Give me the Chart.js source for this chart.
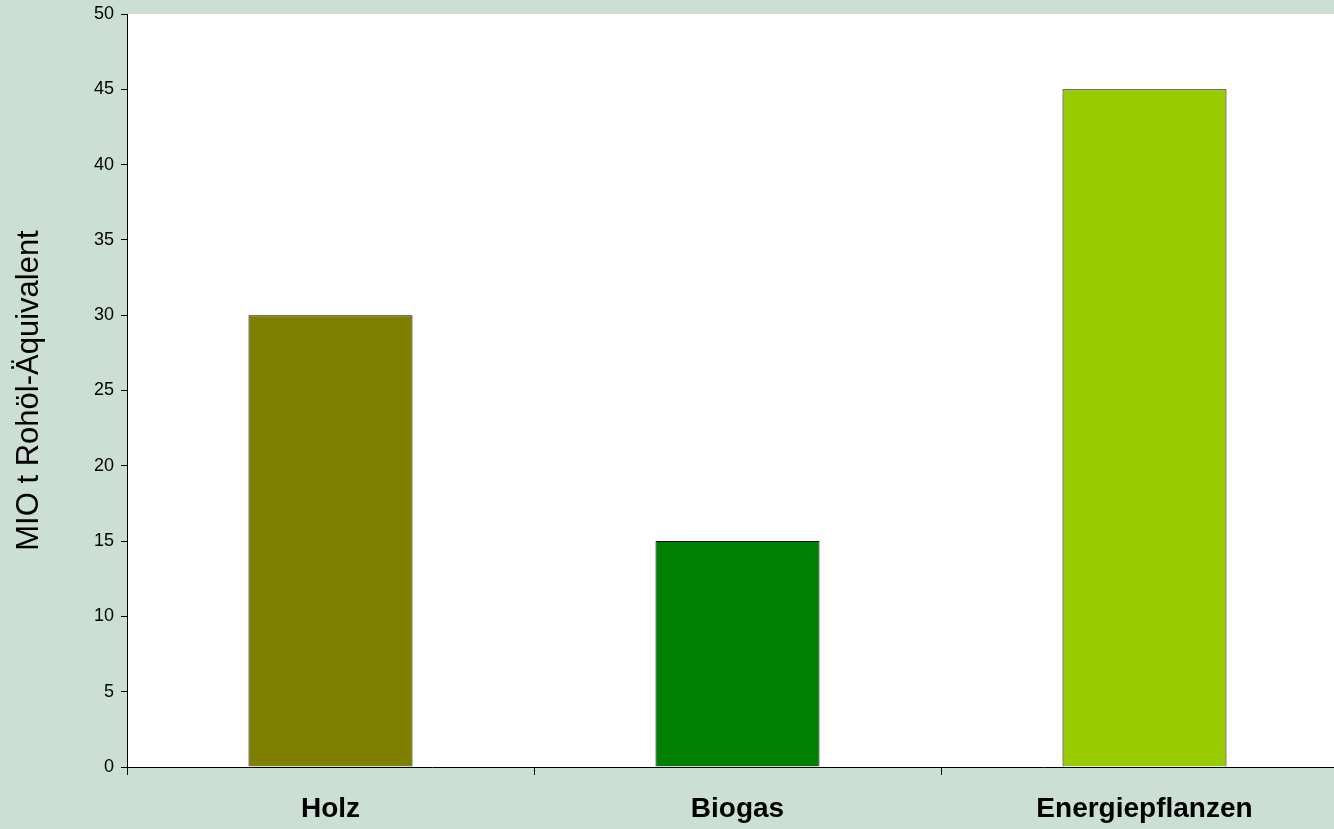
<!DOCTYPE html>
<html>
<head>
<meta charset="utf-8">
<script src="https://cdn.jsdelivr.net/npm/chart.js@4/dist/chart.umd.min.js"></script>
<style>
  html, body { margin: 0; padding: 0; background: #cbdfd5; overflow: hidden; }
  #wrap { width: 1334px; height: 829px; overflow: hidden; }
</style>
</head>
<body>
<div id="wrap"><canvas id="c" width="1348" height="829"></canvas></div>
<script>
// data
var categories = ['Holz', 'Biogas', 'Energiepflanzen'];
var values = [30, 15, 45];
var barColors = ['#808000', '#008000', '#99cc00'];
var yTitle = 'MIO t Rohöl-Äquivalent';

// white plot area
var plotBg = {
    id: 'plotBg',
    beforeDraw: function (chart) {
        var a = chart.chartArea, ctx = chart.ctx;
        ctx.save();
        ctx.fillStyle = '#ffffff';
        ctx.fillRect(a.left, a.top, a.right - a.left, a.bottom - a.top);
        ctx.restore();
    }
};

new Chart(document.getElementById('c').getContext('2d'), {
    type: 'bar',
    data: {
        labels: categories,
        datasets: [{
            data: values,
            backgroundColor: barColors,
            borderColor: '#000000',
            borderWidth: 1,
            barPercentage: 0.403,
            categoryPercentage: 1
        }]
    },
    options: {
        responsive: false,
        animation: false,
        layout: { padding: { top: 14, right: 0, left: 0, bottom: 0 } },
        plugins: { legend: { display: false }, tooltip: { enabled: false } },
        scales: {
            x: {
                grid: { display: true, drawOnChartArea: false, offset: true, tickLength: 8, color: '#000000' },
                border: { color: '#000000', width: 1 },
                ticks: {
                    color: '#000000',
                    padding: 17,
                    font: { family: 'Liberation Sans, Arial, sans-serif', size: 28, weight: 'bold' }
                },
                afterFit: function (s) { s.height = 62; s.paddingLeft = 0; s.paddingRight = 0; }
            },
            y: {
                min: 0,
                max: 50,
                grid: { display: true, drawOnChartArea: false, tickLength: 6, color: '#000000' },
                border: { color: '#000000', width: 1 },
                ticks: {
                    stepSize: 5,
                    color: '#000000',
                    padding: 7,
                    font: { family: 'Liberation Sans, Arial, sans-serif', size: 18 }
                },
                title: {
                    display: true,
                    text: yTitle,
                    color: '#000000',
                    padding: { top: 11, bottom: 0 },
                    font: { family: 'Liberation Sans, Arial, sans-serif', size: 31 }
                },
                // keep the plot top at 14px
                afterFit: function (s) { s.width = 127; s.paddingTop = 0; s.paddingBottom = 0; }
            }
        }
    },
    plugins: [plotBg]
});
</script>
</body>
</html>
